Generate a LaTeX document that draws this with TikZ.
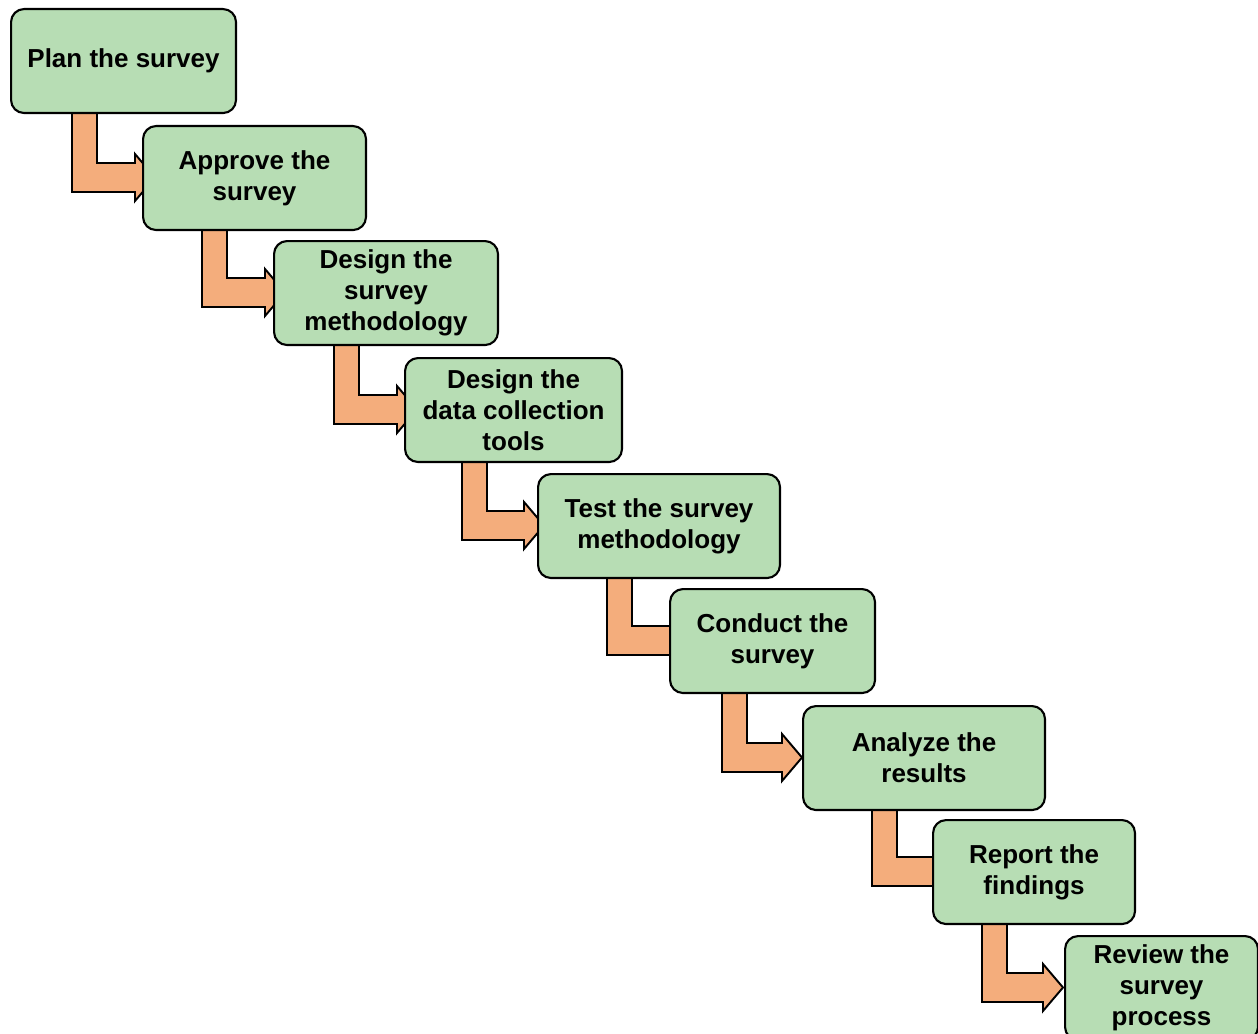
\documentclass[tikz,border=0pt]{standalone}
\usepackage{fontspec}
\setmainfont{Liberation Sans}
\usetikzlibrary{calc,backgrounds}
\definecolor{boxgreen}{RGB}{183,221,180}
\definecolor{arrorange}{RGB}{244,173,124}
\tikzset{
  stepbox/.style={draw=black, line width=1.2pt, fill=boxgreen, rounded corners=0.26cm,
    anchor=north west, minimum height=2.08cm, inner sep=2pt, align=center,
    font=\fontsize{14.8}{17.6}\selectfont\bfseries},
  bentarrow/.style={draw=black, line width=1.1pt, fill=arrorange, line join=miter}
}
% #1 from node, #2 to node, #3 left x of vertical bar (px), #4 x of arrow head base (px)
\newcommand\bentlink[4]{%
  \draw[bentarrow] let \p1=(#1.south), \p2=(#2.north), \p3=(#3,0), \p4=(#4,0) in
    (\x3,\y1+3pt) -- (\x3,\y2-1.34cm) -- (\x4,\y2-1.34cm) -- (\x4,\y2-1.52cm)
    -- (\x4+0.4cm,\y2-1.05cm) -- (\x4,\y2-0.58cm) -- (\x4,\y2-0.76cm)
    -- (\x3+0.5cm,\y2-0.76cm) -- (\x3+0.5cm,\y1+3pt) -- cycle;}
\begin{document}
\begin{tikzpicture}[x=0.02cm,y=-0.02cm]
\useasboundingbox (0,0) rectangle (1258,1034);
\node[stepbox, minimum width=4.5cm]  (s1) at (10,8)    {Plan the survey};
\node[stepbox, minimum width=4.46cm] (s2) at (142,125) {Approve the\\survey};
\node[stepbox, minimum width=4.48cm] (s3) at (273,240) {Design the\\survey\\methodology};
\node[stepbox, minimum width=4.34cm] (s4) at (404,357) {Design the\\data collection\\tools};
\node[stepbox, minimum width=4.84cm] (s5) at (537,473) {Test the survey\\methodology};
\node[stepbox, minimum width=4.1cm]  (s6) at (669,588) {Conduct the\\survey};
\node[stepbox, minimum width=4.84cm] (s7) at (802,705) {Analyze the\\results};
\node[stepbox, minimum width=4.04cm] (s8) at (932,819) {Report the\\findings};
\node[stepbox, minimum width=3.86cm] (s9) at (1064,935) {Review the\\survey\\process};
\begin{scope}[on background layer]
\bentlink{s1}{s2}{72}{135}
\bentlink{s2}{s3}{202}{265}
\bentlink{s3}{s4}{334}{397}
\bentlink{s4}{s5}{462}{524}
\bentlink{s5}{s6}{607}{672}
\bentlink{s6}{s7}{722}{782}
\bentlink{s7}{s8}{872}{935}
\bentlink{s8}{s9}{982}{1043}
\end{scope}
\end{tikzpicture}
\end{document}
